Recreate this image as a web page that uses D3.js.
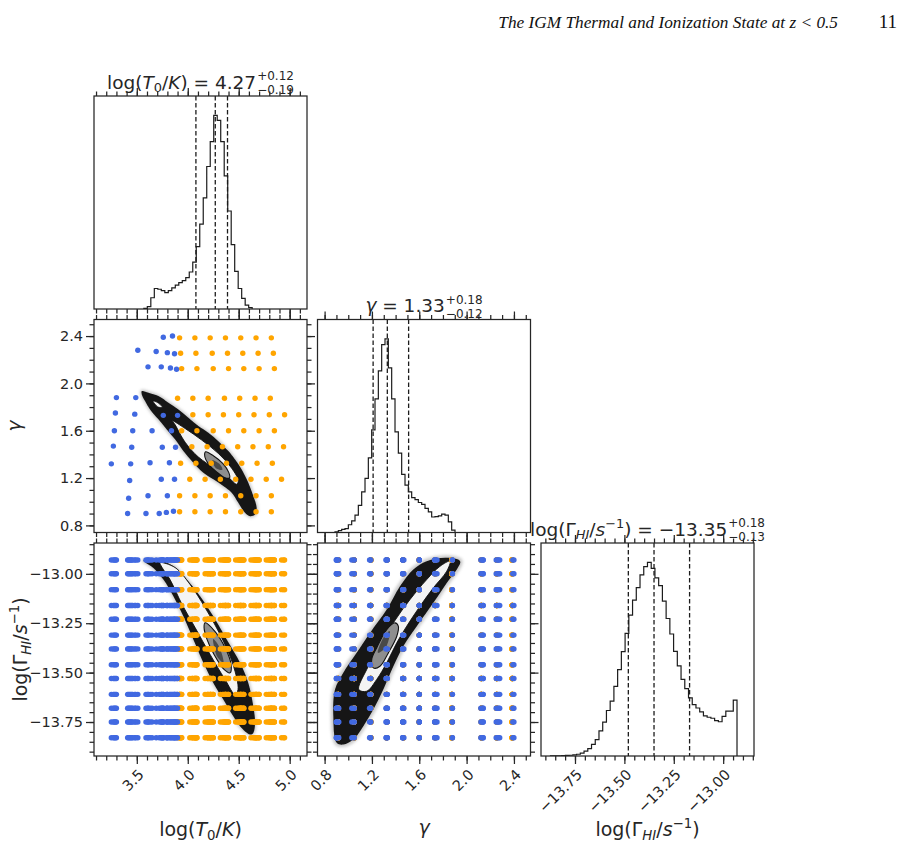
<!DOCTYPE html>
<html>
<head>
<meta charset="utf-8">
<script src="https://cdn.jsdelivr.net/npm/d3@7"></script>
<style>
  body { margin: 0; background: #fff; }
  svg text { font-family: "DejaVu Sans", sans-serif; fill: #262626; }
</style>
</head>
<body>
<svg id="fig" width="903" height="849"></svg>
<script>
// ---- values ----
var t0Domain = [3.08, 5.17];
var gammaDomain = [0.74, 2.54];
var ghiDomain = [-13.922, -12.844];

// 1d marginals (relative heights, equal bins between the two edges)
var t0Bins = [3.569, 4.632];
var t0Counts = [0.003, 0.012, 0.058, 0.106, 0.102, 0.095, 0.085, 0.095, 0.109, 0.123, 0.136,
  0.147, 0.162, 0.191, 0.242, 0.322, 0.438, 0.574, 0.736, 0.864, 1.0, 0.974, 0.864, 0.688,
  0.506, 0.332, 0.194, 0.106, 0.055, 0.020, 0.007];
var gammaBins = [0.888, 1.902];
var gammaCounts = [0.004, 0.01, 0.016, 0.02, 0.04, 0.06, 0.09, 0.14, 0.21, 0.28, 0.385, 0.53,
  0.69, 0.835, 0.97, 1.0, 0.85, 0.69, 0.52, 0.41, 0.30, 0.245, 0.21, 0.18, 0.17, 0.155, 0.145,
  0.125, 0.107, 0.08, 0.082, 0.086, 0.095, 0.09, 0.055, 0.012];
var ghiBins = [-13.874, -12.930];
var ghiCounts = [0.0003, 0.0005, 0.001, 0.002, 0.003, 0.004, 0.006, 0.009, 0.015, 0.025, 0.038,
  0.06, 0.085, 0.13, 0.175, 0.235, 0.283, 0.36, 0.446, 0.539, 0.633, 0.728, 0.805, 0.87, 0.935,
  0.978, 1.0, 0.969, 0.92, 0.88, 0.80, 0.71, 0.63, 0.54, 0.465, 0.396, 0.348, 0.30, 0.265,
  0.248, 0.228, 0.207, 0.20, 0.195, 0.183, 0.177, 0.205, 0.232, 0.232, 0.289];

// 16/50/84 per cent lines
var t0Quant = [4.08, 4.27, 4.39];
var gammaQuant = [1.21, 1.33, 1.51];
var ghiQuant = [-13.48, -13.35, -13.17];

// simulation grid: [log T0, gamma]
var gridBlue = [[3.76,2.39],[3.85,2.40],[3.51,2.28],[3.69,2.27],[3.80,2.26],[3.87,2.25],
  [3.61,2.14],[3.74,2.14],[3.83,2.13],[3.89,2.12],[3.30,1.88],[3.49,1.88],[3.29,1.75],
  [3.48,1.74],[3.76,1.73],[3.90,1.73],[3.28,1.60],[3.46,1.60],[3.65,1.60],[3.84,1.60],
  [3.27,1.47],[3.45,1.46],[3.75,1.46],[3.88,1.46],[3.25,1.32],[3.44,1.32],[3.63,1.33],
  [3.82,1.33],[3.43,1.18],[3.74,1.19],[3.87,1.19],[3.42,1.03],[3.61,1.05],[3.80,1.05],
  [3.41,0.90],[3.59,0.90],[3.72,0.90],[3.79,0.91],[3.86,0.92]];
var gridOrange = [
  [3.92,2.385],[4.07,2.385],[4.22,2.385],[4.37,2.385],[4.52,2.385],[4.67,2.385],[4.82,2.385],
  [3.93,2.255],[4.08,2.255],[4.24,2.255],[4.39,2.255],[4.54,2.255],[4.69,2.255],[4.84,2.255],
  [3.94,2.125],[4.09,2.125],[4.25,2.125],[4.40,2.125],[4.55,2.125],[4.70,2.125],[4.85,2.125],
  [3.90,1.875],[4.05,1.875],[4.20,1.875],[4.36,1.875],[4.51,1.875],[4.66,1.875],[4.81,1.875],
  [4.05,1.735],[4.20,1.735],[4.35,1.735],[4.50,1.735],[4.65,1.735],[4.80,1.735],[4.95,1.735],
  [3.94,1.60],[4.09,1.60],[4.25,1.60],[4.40,1.60],[4.55,1.60],[4.70,1.60],[4.85,1.60],
  [4.04,1.465],[4.19,1.465],[4.34,1.465],[4.49,1.465],[4.64,1.465],[4.79,1.465],[4.94,1.465],
  [3.93,1.325],[4.08,1.325],[4.23,1.325],[4.38,1.325],[4.53,1.325],[4.68,1.325],[4.83,1.325],
  [4.02,1.19],[4.17,1.19],[4.32,1.19],[4.47,1.19],[4.62,1.19],[4.77,1.19],[4.92,1.19],
  [3.92,1.05],[4.07,1.05],[4.22,1.05],[4.37,1.05],[4.52,1.05],[4.67,1.05],[4.82,1.05],
  [3.92,0.915],[4.07,0.915],[4.22,0.915],[4.37,0.915],[4.52,0.915],[4.67,0.915],[4.82,0.915]];
// log Gamma_HI values of the grid
var ghiLevels = [-12.93, -13.00, -13.08, -13.16, -13.23, -13.31, -13.38, -13.46, -13.53,
  -13.61, -13.68, -13.75, -13.83];

// posterior outlines (outer sample cloud, 2-sigma region, 1-sigma region, peak)
var bandTG = [[3.549,1.935],[3.614,1.922],[3.712,1.893],[3.810,1.837],[3.908,1.780],[4.006,1.710],
  [4.104,1.639],[4.202,1.583],[4.300,1.512],[4.398,1.428],[4.464,1.357],[4.529,1.273],[4.594,1.161],
  [4.643,1.048],[4.676,0.949],[4.660,0.892],[4.611,0.878],[4.562,0.907],[4.496,0.992],[4.431,1.076],
  [4.349,1.132],[4.251,1.189],[4.153,1.245],[4.055,1.330],[3.957,1.428],[3.875,1.527],[3.794,1.611],
  [3.712,1.696],[3.630,1.780],[3.581,1.851],[3.549,1.907]];
var whiteTG = [[3.849,1.684],[3.974,1.619],[4.137,1.521],[4.300,1.408],[4.431,1.283],[4.496,1.178],
  [4.480,1.148],[4.398,1.207],[4.268,1.279],[4.104,1.378],[3.974,1.503],[3.875,1.652]];
var coreTG = [[4.175,1.422],[4.251,1.388],[4.345,1.322],[4.402,1.248],[4.410,1.202],[4.366,1.202],
  [4.286,1.250],[4.206,1.316],[4.168,1.378]];
var peakTG = [[4.24,1.35],[4.31,1.32],[4.34,1.27],[4.28,1.28]];
var holeTG = [[3.66,1.85],[3.70,1.84],[3.75,1.80],[3.71,1.80]];

var bandTH = [[3.565,-12.933],[3.696,-12.928],[3.859,-12.962],[3.990,-13.029],[4.121,-13.113],
  [4.251,-13.215],[4.382,-13.332],[4.513,-13.450],[4.594,-13.552],[4.643,-13.670],[4.660,-13.754],
  [4.643,-13.805],[4.611,-13.813],[4.513,-13.771],[4.447,-13.721],[4.349,-13.636],[4.251,-13.552],
  [4.153,-13.450],[4.055,-13.332],[3.957,-13.215],[3.859,-13.113],[3.761,-13.029],[3.663,-12.970],
  [3.581,-12.941]];
var whiteTH = [[3.728,-12.944],[3.875,-12.968],[4.023,-13.054],[4.170,-13.171],[4.317,-13.307],
  [4.444,-13.459],[4.493,-13.586],[4.464,-13.611],[4.366,-13.535],[4.219,-13.408],[4.072,-13.272],
  [3.944,-13.155],[3.826,-13.029],[3.748,-12.968]];
var coreTH = [[4.170,-13.248],[4.268,-13.292],[4.366,-13.373],[4.425,-13.459],[4.415,-13.501],
  [4.356,-13.484],[4.258,-13.408],[4.189,-13.332],[4.160,-13.271]];
var peakTH = [[4.25,-13.33],[4.31,-13.37],[4.35,-13.45],[4.29,-13.42]];

var bandGH = [[0.902,-13.855],[0.874,-13.721],[0.888,-13.586],[0.958,-13.501],[1.071,-13.400],
  [1.184,-13.299],[1.325,-13.181],[1.437,-13.063],[1.550,-12.978],[1.663,-12.936],[1.832,-12.919],
  [1.945,-12.936],[1.917,-12.978],[1.832,-13.046],[1.719,-13.147],[1.579,-13.265],[1.465,-13.366],
  [1.381,-13.468],[1.296,-13.586],[1.212,-13.687],[1.127,-13.771],[1.043,-13.839],[0.958,-13.864]];
var whiteGH = [[1.089,-13.586],[1.156,-13.484],[1.268,-13.366],[1.381,-13.248],[1.522,-13.130],
  [1.663,-13.029],[1.775,-12.962],[1.860,-12.936],[1.832,-12.987],[1.719,-13.071],[1.606,-13.164],
  [1.494,-13.265],[1.410,-13.349],[1.325,-13.450],[1.240,-13.535],[1.156,-13.594]];
var coreGH = [[1.212,-13.476],[1.198,-13.434],[1.240,-13.375],[1.325,-13.282],[1.395,-13.248],
  [1.423,-13.265],[1.410,-13.316],[1.339,-13.400],[1.268,-13.468]];
var peakGH = [[1.25,-13.40],[1.30,-13.32],[1.35,-13.29],[1.32,-13.37]];

// ---- layout ----
var S = 213, L = 94, TOP = 96, GAP = 10.5;
var ink = "#262626";
var svg = d3.select("#fig");

var defs = svg.append("defs");
defs.append("filter").attr("id", "soft").append("feGaussianBlur").attr("stdDeviation", 0.7);
defs.append("filter").attr("id", "fuzz").attr("x", "-20%").attr("y", "-20%")
  .attr("width", "140%").attr("height", "140%")
  .append("feGaussianBlur").attr("stdDeviation", 1.6);

var xT = d3.scaleLinear().domain(t0Domain).range([0, S]);
var xG = d3.scaleLinear().domain(gammaDomain).range([0, S]);
var xH = d3.scaleLinear().domain(ghiDomain).range([0, S]);
var yG = d3.scaleLinear().domain(gammaDomain).range([S, 0]);
var yH = d3.scaleLinear().domain(ghiDomain).range([S, 0]);

var tMajor = [3.5, 4.0, 4.5, 5.0], tMinor = d3.range(31, 52).map(function(d) { return d / 10; });
var gMajor = [0.8, 1.2, 1.6, 2.0, 2.4], gMinor = d3.range(8, 26).map(function(d) { return d / 10; });
var hMajor = [-13.75, -13.5, -13.25, -13.0], hMinor = d3.range(-278, -256).map(function(d) { return d / 20; });

function panel(r, c, id) {
  var g = svg.append("g").attr("transform", "translate(" + (L + c * (S + GAP)) + "," + (TOP + r * (S + GAP)) + ")");
  g.append("clipPath").attr("id", id).append("rect").attr("width", S).attr("height", S);
  g.inner = g.append("g").attr("clip-path", "url(#" + id + ")");
  return g;
}

function ticks(g, side, scale, major, minor, fmt) {
  var make = { bottom: d3.axisBottom, top: d3.axisTop, left: d3.axisLeft, right: d3.axisRight }[side];
  var at = side === "bottom" ? [0, S] : side === "right" ? [S, 0] : [0, 0];
  var mi = g.append("g").attr("transform", "translate(" + at + ")")
    .call(make(scale).tickValues(minor).tickSize(4.5).tickFormat(""));
  var ma = g.append("g").attr("transform", "translate(" + at + ")")
    .call(make(scale).tickValues(major).tickSize(8).tickPadding(3).tickFormat(fmt ? d3.format(fmt) : ""));
  [mi, ma].forEach(function(a) {
    a.select(".domain").remove();
    a.selectAll("line").attr("stroke", ink).attr("stroke-width", 1.25);
    a.selectAll("text").attr("font-size", 14.5).attr("fill", ink);
  });
  if (fmt && side === "bottom") {
    ma.selectAll("text").attr("y", 0).attr("dy", "0.35em").attr("text-anchor", "end")
      .attr("transform", "translate(4,16) rotate(-45)");
  }
  return ma;
}

function frame(g) {
  g.append("rect").attr("width", S).attr("height", S).attr("fill", "none")
    .attr("stroke", ink).attr("stroke-width", 1.25);
}

function hist(g, x, counts, bins, quant) {
  var w = (bins[1] - bins[0]) / counts.length;
  var y = d3.scaleLinear().domain([0, 1.1 * d3.max(counts)]).range([S, 0]);
  var pts = [[bins[0], 0]];
  counts.forEach(function(v, i) {
    pts.push([bins[0] + i * w, v]);
    pts.push([bins[0] + (i + 1) * w, v]);
  });
  pts.push([bins[1], 0]);
  g.inner.append("path")
    .attr("d", d3.line().x(function(d) { return x(d[0]); }).y(function(d) { return y(d[1]); })(pts))
    .attr("fill", "none").attr("stroke", "#1c1c1c").attr("stroke-width", 1.2);
  g.inner.selectAll(".q").data(quant).enter().append("line")
    .attr("x1", function(d) { return x(d); }).attr("x2", function(d) { return x(d); })
    .attr("y1", 0).attr("y2", S)
    .attr("stroke", "#1c1c1c").attr("stroke-width", 1.3).attr("stroke-dasharray", "4.5,2.5");
}

var closedPath = d3.line().curve(d3.curveCatmullRomClosed.alpha(0.5));
function contours(g, x, y, band, white, core, peak, halo, holes) {
  var px = function(a) { return a.map(function(d) { return [x(d[0]), y(d[1])]; }); };
  g.inner.append("path").attr("d", closedPath(px(band))).attr("fill", "#555").attr("stroke", "#888")
    .attr("stroke-width", halo).attr("opacity", 0.45).attr("filter", "url(#fuzz)");
  g.inner.append("path").attr("d", closedPath(px(band))).attr("fill", "#151515").attr("filter", "url(#soft)");
  (holes || []).forEach(function(h) {
    g.inner.append("path").attr("d", closedPath(px(h))).attr("fill", "#f4f4f4").attr("stroke", "#111").attr("stroke-width", 0.8);
  });
  g.inner.append("path").attr("d", closedPath(px(white))).attr("fill", "#f4f4f4").attr("stroke", "#111").attr("stroke-width", 0.9);
  g.inner.append("path").attr("d", closedPath(px(core))).attr("fill", "#8e8e8e").attr("stroke", "#111").attr("stroke-width", 1.1);
  g.inner.append("path").attr("d", closedPath(px(peak))).attr("fill", "#4a4a4a").attr("filter", "url(#soft)");
}

function dots(g, pts, x, y, colour) {
  g.inner.append("g").selectAll("circle").data(pts).enter().append("circle")
    .attr("cx", function(d) { return x(d[0]); }).attr("cy", function(d) { return y(d[1]); })
    .attr("r", 2.7).attr("fill", colour);
}

// grid points crossed with the photo-ionisation rates
function withGhi(pts, k) {
  var out = [];
  pts.forEach(function(p) { ghiLevels.forEach(function(h) { out.push([p[k], h]); }); });
  return out;
}

// ---- panels ----
var p00 = panel(0, 0, "c00");
hist(p00, xT, t0Counts, t0Bins, t0Quant);
frame(p00);
ticks(p00, "top", xT, tMajor, tMinor);
ticks(p00, "bottom", xT, tMajor, tMinor);

var p10 = panel(1, 0, "c10");
contours(p10, xT, yG, bandTG, whiteTG, coreTG, peakTG, 3, [holeTG]);
dots(p10, gridOrange, xT, yG, "#FFA500");
dots(p10, gridBlue, xT, yG, "#4169E1");
frame(p10);
ticks(p10, "top", xT, tMajor, tMinor);
ticks(p10, "bottom", xT, tMajor, tMinor);
ticks(p10, "left", yG, gMajor, gMinor, ".1f");
ticks(p10, "right", yG, gMajor, gMinor);

var p11 = panel(1, 1, "c11");
hist(p11, xG, gammaCounts, gammaBins, gammaQuant);
frame(p11);
ticks(p11, "top", xG, gMajor, gMinor);
ticks(p11, "bottom", xG, gMajor, gMinor);

var p20 = panel(2, 0, "c20");
contours(p20, xT, yH, bandTH, whiteTH, coreTH, peakTH, 3);
dots(p20, withGhi(gridOrange, 0), xT, yH, "#FFA500");
dots(p20, withGhi(gridBlue, 0), xT, yH, "#4169E1");
frame(p20);
ticks(p20, "top", xT, tMajor, tMinor);
ticks(p20, "bottom", xT, tMajor, tMinor, ".1f");
ticks(p20, "left", yH, hMajor, hMinor, ".2f");
ticks(p20, "right", yH, hMajor, hMinor);

var p21 = panel(2, 1, "c21");
contours(p21, xG, yH, bandGH, whiteGH, coreGH, peakGH, 5);
dots(p21, withGhi(gridOrange, 1), xG, yH, "#FFA500");
dots(p21, withGhi(gridBlue, 1), xG, yH, "#4169E1");
frame(p21);
ticks(p21, "top", xG, gMajor, gMinor);
ticks(p21, "bottom", xG, gMajor, gMinor, ".1f");
ticks(p21, "left", yH, hMajor, hMinor);
ticks(p21, "right", yH, hMajor, hMinor);

var p22 = panel(2, 2, "c22");
hist(p22, xH, ghiCounts, ghiBins, ghiQuant);
frame(p22);
ticks(p22, "top", xH, hMajor, hMinor);
ticks(p22, "bottom", xH, hMajor, hMinor, ".2f");

// ---- math-ish labels ----
function mathParts(text, parts, fs) {
  var shift = 0;
  parts.forEach(function(p) {
    var want = p.sub ? fs * 0.2 : p.sup ? -fs * 0.4 : 0;
    var t = text.append("tspan").text(p.t).attr("dy", want - shift);
    shift = want;
    if (p.i) t.attr("font-style", "italic");
    if (p.sub || p.sup) t.attr("font-size", fs * 0.7);
  });
  if (shift) text.append("tspan").text("\u200b").attr("dy", -shift);
}

var lblT0 = [{ t: "log(" }, { t: "T", i: 1 }, { t: "0", sub: 1 }, { t: "/" }, { t: "K", i: 1 }, { t: ")" }];
var lblGamma = [{ t: "\u03b3", i: 1 }];
var lblGhi = [{ t: "log(\u0393" }, { t: "HI", i: 1, sub: 1 }, { t: "/" }, { t: "s", i: 1 }, { t: "\u22121", sup: 1 }, { t: ")" }];

function title(c, r, parts, value, up, down) {
  var fs = 18.5;
  var g = svg.append("g");
  var main = g.append("text").attr("font-size", fs);
  mathParts(main, parts.concat([{ t: " = " + value }]), fs);
  var w = main.node().getComputedTextLength();
  var a = g.append("text").attr("x", w + 1).attr("y", -8.5).attr("font-size", 12).text(up);
  var b = g.append("text").attr("x", w + 1).attr("y", 5.5).attr("font-size", 12).text(down);
  var tot = w + 1 + Math.max(a.node().getComputedTextLength(), b.node().getComputedTextLength());
  var cx = L + c * (S + GAP) + S / 2, by = TOP + r * (S + GAP) - 7.5;
  g.attr("transform", "translate(" + (cx - tot / 2) + "," + by + ")");
}
title(0, 0, lblT0, "4.27", "+0.12", "\u22120.19");
title(1, 1, lblGamma, "1.33", "+0.18", "\u22120.12");
title(2, 2, lblGhi, "\u221213.35", "+0.18", "\u22120.13");

function axisLabel(x, y, rot, parts) {
  var t = svg.append("text").attr("font-size", 19).attr("text-anchor", "middle")
    .attr("transform", "translate(" + x + "," + y + ") rotate(" + rot + ")");
  mathParts(t, parts, 19);
}
var mid = function(c) { return L + c * (S + GAP) + S / 2; };
axisLabel(mid(0), 836, 0, lblT0);
axisLabel(mid(1), 834, 0, lblGamma);
axisLabel(mid(2), 836, 0, lblGhi);
axisLabel(21, mid(1) - L + TOP, -90, lblGamma);
axisLabel(27, mid(2) - L + TOP, -90, lblGhi);

// ---- running head ----
var serif = "'Liberation Serif', 'Times New Roman', serif";
var head = svg.append("text").attr("text-anchor", "end").attr("x", 838).attr("y", 28)
  .style("font-family", serif).attr("font-size", 20)
  .attr("font-style", "italic").style("fill", "#111")
  .text("The IGM Thermal and Ionization State at z < 0.5");
var hfs = 20 * 340 / head.node().getComputedTextLength();
head.attr("font-size", hfs);
svg.append("text").attr("text-anchor", "end").attr("x", 897).attr("y", 28)
  .style("font-family", serif).attr("font-size", hfs * 1.1)
  .style("fill", "#111").text("11");
</script>
</body>
</html>
